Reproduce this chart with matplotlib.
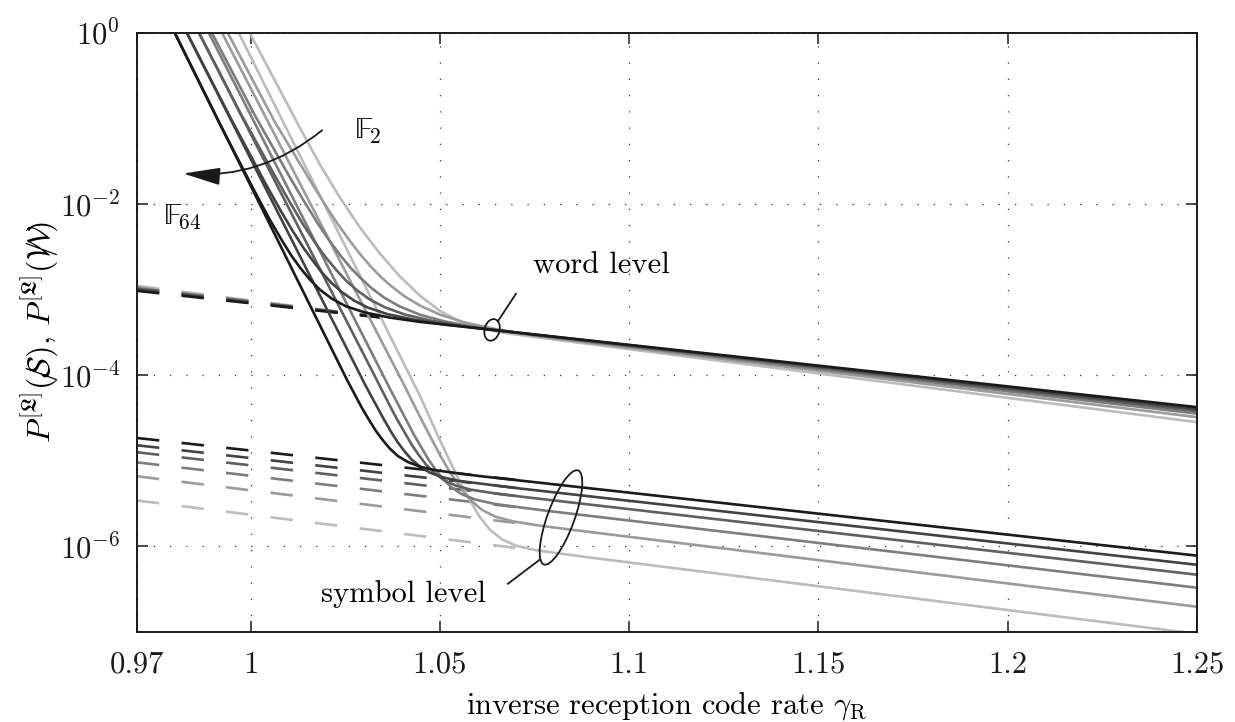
import matplotlib
matplotlib.use("Agg")
import matplotlib.pyplot as plt
import matplotlib.transforms as mtransforms
from matplotlib.patches import Ellipse
from matplotlib.ticker import FixedLocator, FixedFormatter, NullLocator

plt.rcParams["font.family"] = "serif"
plt.rcParams["font.serif"] = ["cmr10"]
plt.rcParams["mathtext.fontset"] = "cm"
plt.rcParams["axes.formatter.use_mathtext"] = True

# ---------------------------------------------------------------- data
fields = ["F2", "F4", "F8", "F16", "F32", "F64"]
shades = ["#bcbcbc", "#9b9b9b", "#7d7d7d", "#606060", "#424242", "#1a1a1a"]

x_ticks = [0.97, 1.0, 1.05, 1.1, 1.15, 1.2, 1.25]
x_tick_labels = ["0.97", "1", "1.05", "1.1", "1.15", "1.2", "1.25"]
y_ticks = [1e-6, 1e-4, 1e-2, 1e0]

# error-floor approximations (dashed), word level
word_floor_x = [0.97, 1.035]
word_floor_start = [1.11e-3, 1.07e-3, 1.04e-3, 1.03e-3, 1.00e-3, 9.7e-4]
word_floor_stop = [4.73e-4, 4.74e-4, 4.75e-4, 4.77e-4, 4.73e-4, 4.70e-4]

# error-floor approximations (dashed), symbol level
sym_floor_x = [0.97, 1.07]
sym_floor_start = [3.44e-6, 6.6e-6, 9.6e-6, 1.26e-5, 1.52e-5, 1.85e-5]
sym_floor_stop = [9.6e-7, 1.88e-6, 2.88e-6, 3.89e-6, 4.84e-6, 6.0e-6]

# word error probability P(W)
word_x_F2 = [0.9998, 1.0131, 1.0183, 1.0236, 1.0289, 1.0342, 1.0395, 1.0448, 1.0500,
             1.0553, 1.0606, 1.0672, 1.0751, 1.25]
word_p_F2 = [1.0, 7.70e-2, 2.91e-2, 1.195e-2, 5.32e-3, 2.64e-3, 1.42e-3, 8.48e-4, 5.66e-4,
             4.26e-4, 3.53e-4, 3.12e-4, 2.80e-4, 2.83e-5]
word_x_F4 = [0.9940, 1.0065, 1.0157, 1.0197, 1.0231, 1.0263, 1.0292, 1.0318, 1.0344,
             1.0374, 1.0408, 1.0448, 1.0500, 1.0566, 1.0646, 1.0738, 1.0831, 1.25]
word_p_F4 = [1.0, 8.98e-2, 1.90e-2, 9.84e-3, 5.80e-3, 3.68e-3, 2.52e-3, 1.86e-3, 1.41e-3,
             1.08e-3, 8.30e-4, 6.51e-4, 5.12e-4, 4.14e-4, 3.48e-4, 2.98e-4, 2.60e-4, 3.24e-5]
word_x_F8 = [0.9898, 1.0012, 1.0104, 1.0144, 1.0178, 1.0210, 1.0239, 1.0265, 1.0292,
             1.0321, 1.0355, 1.0395, 1.0448, 1.0514, 1.0593, 1.0685, 1.0764, 1.25]
word_p_F8 = [1.0, 1.08e-1, 2.05e-2, 1.03e-2, 5.91e-3, 3.66e-3, 2.46e-3, 1.79e-3, 1.35e-3,
             1.03e-3, 7.97e-4, 6.34e-4, 5.09e-4, 4.25e-4, 3.66e-4, 3.20e-4, 2.88e-4, 3.56e-5]
word_x_F16 = [0.9864, 0.9972, 1.0065, 1.0104, 1.0138, 1.0170, 1.0199, 1.0226, 1.0252,
              1.0281, 1.0315, 1.0355, 1.0408, 1.0474, 1.0553, 1.0632, 1.25]
word_p_F16 = [1.0, 1.18e-1, 2.12e-2, 1.05e-2, 5.87e-3, 3.58e-3, 2.38e-3, 1.71e-3, 1.28e-3,
              9.86e-4, 7.69e-4, 6.22e-4, 5.12e-4, 4.37e-4, 3.82e-4, 3.42e-4, 3.80e-5]
word_x_F32 = [0.9832, 0.9946, 1.0038, 1.0078, 1.0112, 1.0141, 1.0168, 1.0191, 1.0215,
              1.0241, 1.0273, 1.0310, 1.0363, 1.0434, 1.0514, 1.25]
word_p_F32 = [1.0, 1.04e-1, 1.79e-2, 8.64e-3, 4.80e-3, 3.03e-3, 2.08e-3, 1.54e-3, 1.19e-3,
              9.37e-4, 7.48e-4, 6.18e-4, 5.16e-4, 4.45e-4, 3.92e-4, 4.02e-5]
word_x_F64 = [0.9800, 0.9919, 1.0012, 1.0051, 1.0083, 1.0109, 1.0133, 1.0157, 1.0183,
              1.0215, 1.0252, 1.0302, 1.0368, 1.0448, 1.25]
word_p_F64 = [1.0, 8.62e-2, 1.38e-2, 6.57e-3, 3.76e-3, 2.46e-3, 1.76e-3, 1.31e-3, 1.003e-3,
              7.84e-4, 6.40e-4, 5.42e-4, 4.72e-4, 4.20e-4, 4.24e-5]

# symbol error probability P(S)
sym_x_F2 = [0.9969, 1.0448, 1.0474, 1.0500, 1.0527, 1.0553, 1.0580, 1.0606, 1.0632,
            1.0664, 1.0701, 1.0751, 1.0817, 1.0897, 1.25]
sym_p_F2 = [1.0, 5.69e-5, 3.16e-5, 1.75e-5, 9.82e-6, 5.67e-6, 3.40e-6, 2.20e-6, 1.57e-6,
            1.21e-6, 1.02e-6, 9.08e-7, 8.25e-7, 7.41e-7, 9.5e-8]
sym_x_F4 = [0.9925, 1.0408, 1.0434, 1.0458, 1.0479, 1.0500, 1.0521, 1.0543, 1.0564,
            1.0585, 1.0611, 1.0646, 1.0691, 1.0751, 1.0831, 1.25]
sym_p_F4 = [1.0, 7.35e-5, 4.30e-5, 2.67e-5, 1.77e-5, 1.18e-5, 8.12e-6, 5.77e-6, 4.28e-6,
            3.36e-6, 2.68e-6, 2.23e-6, 1.97e-6, 1.78e-6, 1.60e-6, 1.97e-7]
sym_x_F8 = [0.9890, 1.0368, 1.0395, 1.0416, 1.0434, 1.0453, 1.0471, 1.0490, 1.0508,
            1.0529, 1.0556, 1.0593, 1.0646, 1.0712, 1.0778, 1.25]
sym_p_F8 = [1.0, 7.00e-5, 4.13e-5, 2.74e-5, 1.93e-5, 1.39e-5, 1.02e-5, 7.77e-6, 6.16e-6,
            4.98e-6, 4.12e-6, 3.53e-6, 3.13e-6, 2.86e-6, 2.62e-6, 3.29e-7]
sym_x_F16 = [0.9864, 1.0342, 1.0368, 1.0389, 1.0408, 1.0426, 1.0445, 1.0463, 1.0485,
             1.0508, 1.0540, 1.0580, 1.0632, 1.0698, 1.25]
sym_p_F16 = [1.0, 7.43e-5, 4.40e-5, 2.95e-5, 2.11e-5, 1.54e-5, 1.16e-5, 9.11e-6, 7.27e-6,
             6.07e-6, 5.18e-6, 4.62e-6, 4.25e-6, 3.89e-6, 4.67e-7]
sym_x_F32 = [0.9832, 1.0302, 1.0329, 1.0350, 1.0371, 1.0389, 1.0408, 1.0426, 1.0448,
             1.0474, 1.0508, 1.0553, 1.0619, 1.0685, 1.25]
sym_p_F32 = [1.0, 7.86e-5, 4.72e-5, 3.18e-5, 2.19e-5, 1.64e-5, 1.27e-5, 1.03e-5, 8.55e-6,
             7.27e-6, 6.40e-6, 5.81e-6, 5.34e-6, 4.90e-6, 6.1e-7]
sym_x_F64 = [0.9800, 1.0255, 1.0276, 1.0294, 1.0313, 1.0331, 1.0350, 1.0368, 1.0389,
             1.0416, 1.0448, 1.0487, 1.0540, 1.0606, 1.25]
sym_p_F64 = [1.0, 8.81e-5, 5.88e-5, 4.17e-5, 3.01e-5, 2.24e-5, 1.73e-5, 1.39e-5, 1.14e-5,
             9.68e-6, 8.53e-6, 7.78e-6, 7.23e-6, 6.63e-6, 7.8e-7]

word_x = [word_x_F2, word_x_F4, word_x_F8, word_x_F16, word_x_F32, word_x_F64]
word_p = [word_p_F2, word_p_F4, word_p_F8, word_p_F16, word_p_F32, word_p_F64]
sym_x = [sym_x_F2, sym_x_F4, sym_x_F8, sym_x_F16, sym_x_F32, sym_x_F64]
sym_p = [sym_p_F2, sym_p_F4, sym_p_F8, sym_p_F16, sym_p_F32, sym_p_F64]

# ---------------------------------------------------------------- figure
fig = plt.figure(figsize=(12.35, 7.22), dpi=100)
ax = fig.add_axes([0.1109, 0.1247, 0.8583, 0.8296])
ax.set_yscale("log")
ax.set_xlim(0.97, 1.25)
ax.set_ylim(1e-7, 1e0)

LW = 1.9
dash = (0, (8.5, 8.5))

for i, f in enumerate(fields):
    c = shades[i]
    ax.plot(word_floor_x, [word_floor_start[i], word_floor_stop[i]],
            color=c, lw=LW, ls=dash, zorder=2 + i * 0.01)
    ax.plot(sym_floor_x, [sym_floor_start[i], sym_floor_stop[i]],
            color=c, lw=LW, ls=dash, zorder=2 + i * 0.01)

for i, f in enumerate(fields):
    c = shades[i]
    ax.plot(word_x[i], word_p[i], color=c, lw=LW, zorder=3 + i * 0.01)
    ax.plot(sym_x[i], sym_p[i], color=c, lw=LW, zorder=3 + i * 0.01)

# axes styling
for s in ax.spines.values():
    s.set_linewidth(1.4)
    s.set_color("#1a1a1a")
    s.set_zorder(6)

ax.xaxis.set_major_locator(FixedLocator(x_ticks))
ax.xaxis.set_major_formatter(FixedFormatter(x_tick_labels))
ax.yaxis.set_major_locator(FixedLocator(y_ticks))
ax.yaxis.set_minor_locator(NullLocator())
ax.tick_params(which="major", direction="in", length=8, width=1.1,
               top=True, right=True, labelsize=22, pad=12, colors="#1a1a1a")
ax.tick_params(axis="x", pad=14)

ax.grid(True, which="major", color="#333333", lw=0.9, ls=(0, (1, 12)))
ax.set_axisbelow(True)

ax.set_xlabel(r"inverse reception code rate $\gamma_\mathrm{R}$", fontsize=22, labelpad=8)
ax.set_ylabel(r"$P^{[\mathfrak{L}]}(\mathcal{S}\!\!\!\!\!/\;),\,P^{[\mathfrak{L}]}(\mathcal{W}\!\!\!\!\!\!/\;)$",
              fontsize=23)
ax.yaxis.set_label_coords(-0.072, 0.5)

# field-size arrow and labels
ax.annotate("", xy=(0.9822, 0.0228), xytext=(1.0189, 0.073),
            arrowprops=dict(arrowstyle="-|>,head_length=1.15,head_width=0.27",
                            connectionstyle="arc3,rad=-0.2", color="#1a1a1a",
                            lw=1.3, mutation_scale=20, shrinkA=0, shrinkB=0),
            zorder=7)
ax.text(1.031, 0.071, r"$\mathrm{\mathbb{F}}_2$", fontsize=22, ha="center", va="center")
ax.text(0.9819, 7.2e-3, r"$\mathrm{\mathbb{F}}_{64}$", fontsize=22, ha="center", va="center")


def pixel_ellipse(xc, yc, w, h, angle):
    tr = mtransforms.Affine2D() + mtransforms.ScaledTranslation(xc, yc, ax.transData)
    e = Ellipse((0, 0), w, h, angle=angle, transform=tr, fill=False,
                edgecolor="#1a1a1a", lw=1.3, zorder=7)
    ax.add_patch(e)


# word level marker
pixel_ellipse(1.0638, 3.39e-4, 15, 22, -15)
ax.plot([1.0654, 1.0701], [4.32e-4, 8.95e-4], color="#1a1a1a", lw=1.3, zorder=7)
ax.text(1.0926, 1.91e-3, "word level", fontsize=22, ha="center", va="center")

# symbol level marker
pixel_ellipse(1.0820, 2.18e-6, 27, 100, -20)
ax.plot([1.0764, 1.0680], [7.0e-7, 3.66e-7], color="#1a1a1a", lw=1.3, zorder=7)
ax.text(1.0405, 2.8e-7, "symbol level", fontsize=22, ha="center", va="center")

fig.savefig("out.png", dpi=100)
